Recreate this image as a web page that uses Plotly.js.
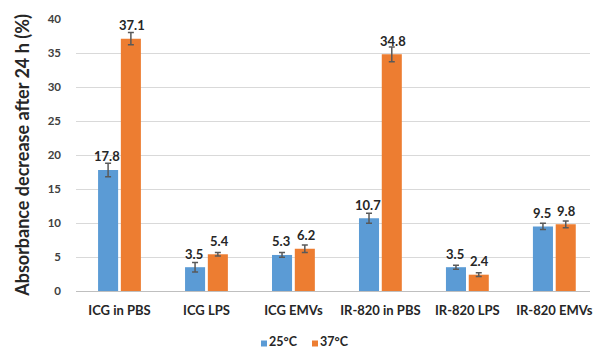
<!DOCTYPE html>
<html>
<head>
<meta charset="utf-8">
<script src="https://cdn.plot.ly/plotly-3.0.1.min.js"></script>
<style>
  html, body { margin: 0; padding: 0; background: #ffffff; }
  #chart { width: 593px; height: 349px; }
</style>
</head>
<body>
<div id="chart"></div>
<script>
// Sample groups along the x axis
const categories = ["ICG in PBS", "ICG LPS", "ICG EMVs", "IR-820 in PBS", "IR-820 LPS", "IR-820 EMVs"];

// Absorbance decrease after 24 h (%) at each temperature
const values25 = [17.8, 3.5, 5.3, 10.7, 3.5, 9.5];
const values37 = [37.1, 5.4, 6.2, 34.8, 2.4, 9.8];

// Standard deviations (error bars)
const errors25 = [1.0, 0.7, 0.35, 0.75, 0.3, 0.45];
const errors37 = [0.9, 0.25, 0.55, 1.1, 0.27, 0.5];

// Series names and y-axis ticks
const seriesNames = ["25°C", "37°C"];
const yTicks = [0, 5, 10, 15, 20, 25, 30, 35, 40];

const FONT = "Lato, 'Open Sans', 'Liberation Sans', sans-serif";
const COLORS = ["#5B9BD5", "#ED7D31"];
const ERR = "#595959";
const TEXT = "#262626";

const W = 593, H = 349;
const M = { l: 76, r: 3, t: 19, b: 58 };
// pixel -> paper coordinate helpers for the legend block below the plot
const px = v => (v - M.l) / (W - M.l - M.r);
const py = v => (H - M.b - v) / (H - M.t - M.b);

function barTrace(name, vals, errs, color) {
  return {
    type: "bar",
    name: name,
    x: categories,
    y: vals,
    marker: { color: color, line: { width: 0 } },
    error_y: { type: "data", array: errs, visible: true, color: ERR, thickness: 1.5, width: 3 },
    hoverinfo: "skip",
    showlegend: false
  };
}

const traces = [
  barTrace(seriesNames[0], values25, errors25, COLORS[0]),
  barTrace(seriesNames[1], values37, errors37, COLORS[1])
];

// Value labels above each bar
const annotations = [];
const offsets = [-12.6, 12.6];
[values25, values37].forEach((vals, s) => {
  vals.forEach((v, i) => {
    annotations.push({
      x: categories[i], y: v, xref: "x", yref: "y",
      xshift: offsets[s], yshift: 13.5,
      text: v.toFixed(1), showarrow: false,
      xanchor: "center", yanchor: "middle",
      font: { family: FONT, size: 13, color: TEXT, weight: "bold" }
    });
  });
});

// Compact legend: small colour squares followed by the series names
const shapes = [];
const legendX = [261, 312];
seriesNames.forEach((name, s) => {
  shapes.push({
    type: "rect", xref: "paper", yref: "paper",
    x0: px(legendX[s]), x1: px(legendX[s] + 6),
    y0: py(346.5), y1: py(340.5),
    fillcolor: COLORS[s], line: { width: 0 }
  });
  annotations.push({
    x: px(legendX[s] + 7), y: py(341), xref: "paper", yref: "paper",
    text: name, showarrow: false, xanchor: "left", yanchor: "middle",
    borderpad: 0,
    font: { family: FONT, size: 12.5, color: TEXT, weight: "bold" }
  });
});

const layout = {
  width: W,
  height: H,
  margin: M,
  paper_bgcolor: "#ffffff",
  plot_bgcolor: "#ffffff",
  barmode: "group",
  bargap: 0.476,
  bargroupgap: 0.12,
  showlegend: false,
  xaxis: {
    type: "category",
    range: [-0.5, 5.41],
    showgrid: false,
    showline: false,
    zeroline: false,
    ticks: "",
    ticklabelstandoff: 10,
    tickfont: { family: FONT, size: 13, color: TEXT, weight: "bold" },
    fixedrange: true
  },
  yaxis: {
    range: [0, 40],
    tickvals: yTicks,
    ticktext: yTicks.map(String),
    showgrid: true,
    gridcolor: "#D9D9D9",
    gridwidth: 1,
    zeroline: true,
    zerolinecolor: "#BFBFBF",
    zerolinewidth: 1,
    showline: false,
    ticks: "",
    ticklabelstandoff: 14,
    tickfont: { family: FONT, size: 11.5, color: "#404040", weight: "bold" },
    title: {
      text: "Absorbance decrease after 24 h (%)",
      font: { family: FONT, size: 18, color: TEXT, weight: "bold" },
      standoff: 13
    },
    automargin: false,
    fixedrange: true
  },
  shapes: shapes,
  annotations: annotations
};

Plotly.newPlot("chart", traces, layout, { displayModeBar: false, staticPlot: true });
</script>
</body>
</html>
